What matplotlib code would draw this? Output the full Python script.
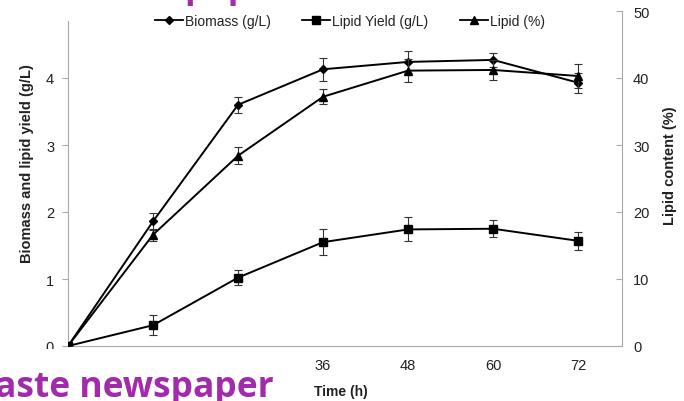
import matplotlib
matplotlib.use("Agg")
import matplotlib.pyplot as plt
from matplotlib.patches import Rectangle
from matplotlib.lines import Line2D

plt.rcParams['font.family'] = ['Liberation Sans', 'DejaVu Sans']

time_h = [0, 12, 24, 36, 48, 60, 72]
x_tick_labels = ['', '', '', '36', '48', '60', '72']
biomass = [0, 1.86, 3.60, 4.13, 4.24, 4.27, 3.93]
biomass_err = [0, 0.13, 0.12, 0.17, 0.16, 0.10, 0.15]
lipid_yield = [0, 0.31, 1.02, 1.55, 1.74, 1.75, 1.57]
lipid_yield_err = [0, 0.15, 0.11, 0.19, 0.18, 0.13, 0.13]
lipid_pct = [0, 16.6, 28.4, 37.2, 41.1, 41.2, 40.3]
lipid_pct_err = [0, 0.9, 1.25, 1.1, 1.7, 1.5, 1.8]

fig = plt.figure(figsize=(6.84, 4.02), dpi=100)
ax = fig.add_axes([68/684, 55/402, (622-68)/684, (347-12)/402])
ax2 = ax.twinx()

lc = 'black'
ekw = dict(ecolor='#333333', elinewidth=0.8, capsize=3, capthick=0.8)
ax.errorbar(time_h, biomass, yerr=biomass_err, color=lc, lw=1.4, marker='D',
            ms=4.5, **ekw, zorder=3)
ax.errorbar(time_h, lipid_yield, yerr=lipid_yield_err, color=lc, lw=1.4, marker='s',
            ms=6, **ekw, zorder=3)
ax2.errorbar(time_h, lipid_pct, yerr=lipid_pct_err, color=lc, lw=1.4, marker='^',
             ms=6, **ekw, zorder=3)

ax.set_xlim(0, 78.2)
ax.set_ylim(0, 5)
ax2.set_ylim(0, 50)
ax.set_yticks([0, 1, 2, 3, 4])
ax2.set_yticks([0, 10, 20, 30, 40, 50])
ax.set_xticks(time_h)
ax.set_xticklabels(x_tick_labels)

spc = '#aaaaaa'
for a in (ax, ax2):
    a.spines['top'].set_visible(False)
    for s in ('left', 'right', 'bottom'):
        a.spines[s].set_color(spc)
ax.spines['right'].set_visible(False)
ax2.spines['left'].set_visible(False)
ax2.spines['bottom'].set_visible(False)
ax.spines['left'].set_bounds(0, 4.85)

tc = '#222222'
ax.tick_params(axis='x', length=0, pad=9, labelsize=10.5, colors=tc)
ax.tick_params(axis='y', length=4, direction='out', color=spc, pad=6, labelsize=10.5, labelcolor=tc)
ax2.tick_params(axis='y', length=4, direction='in', color=spc, pad=8, labelsize=10.5, labelcolor=tc)

fig.text(341/684, 1 - 392/402, 'Time (h)', ha='center', va='center',
         fontsize=10, fontweight='bold', color=tc)
fig.text(27/684, 1 - 164/402, 'Biomass and lipid yield (g/L)', rotation=90,
         ha='center', va='center', fontsize=10.5, fontweight='bold', color=tc)
fig.text(670/684, 1 - 166/402, 'Lipid content (%)', rotation=90,
         ha='center', va='center', fontsize=10.5, fontweight='bold', color=tc)

handles = [
    Line2D([], [], color=lc, lw=1.3, marker='D', ms=4),
    Line2D([], [], color=lc, lw=1.3, marker='s', ms=5.5),
    Line2D([], [], color=lc, lw=1.3, marker='^', ms=5.5),
]
labels = ['Biomass (g/L)', 'Lipid Yield (g/L)', 'Lipid (%)']
fig.legend(handles, labels, loc='center', bbox_to_anchor=(350/684, 1 - 22/402),
           ncol=3, frameon=False, fontsize=10, handlelength=2.0, handletextpad=0.15,
           columnspacing=2.3, labelcolor=tc)

# Overlay from slide: white box with purple caption
fig.patches.append(Rectangle((0, 0), 285/684, 52/402, transform=fig.transFigure,
                             facecolor='white', edgecolor='none', zorder=10))
purple = '#A22BAC'
cap_font = ['Open Sans', 'DejaVu Sans']
fig.text(-5/684, 5/402, 'aste newspaper', color=purple, fontsize=25.5,
         fontweight='bold', family=cap_font, ha='left',
         va='baseline', zorder=11)
fig.text(184/684, 1 + 3/402, 'paper', color=purple, fontsize=25.5,
         fontweight='bold', family=cap_font, ha='left',
         va='baseline', zorder=11)

fig.savefig('out.png', dpi=100)
